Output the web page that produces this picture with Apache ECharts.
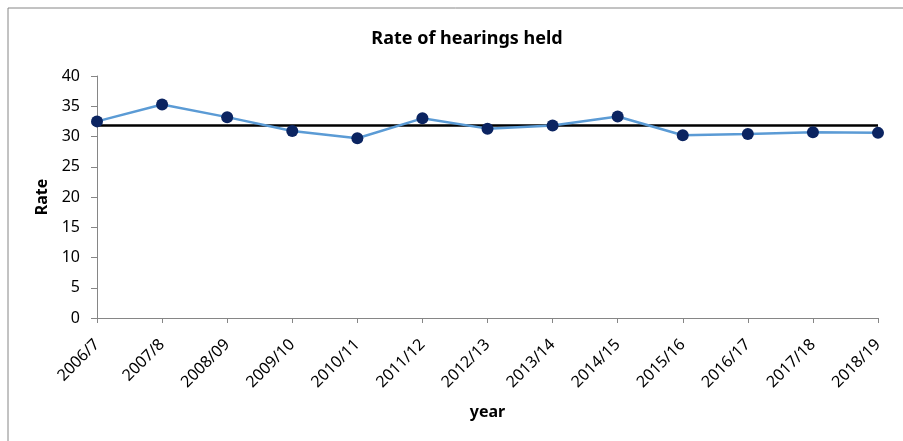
<!DOCTYPE html>
<html>
<head>
<meta charset="utf-8">
<script src="https://cdn.jsdelivr.net/npm/echarts@6/dist/echarts.min.js"></script>
<style>
  html, body { margin: 0; padding: 0; background: #fff; }
  #chart { width: 903px; height: 441px; }
</style>
</head>
<body>
<div id="chart"></div>
<script>
// data
var years = ['2006/7', '2007/8', '2008/09', '2009/10', '2010/11', '2011/12', '2012/13',
             '2013/14', '2014/15', '2015/16', '2016/17', '2017/18', '2018/19'];
var rate = [32.5, 35.3, 33.2, 30.9, 29.7, 33.0, 31.3, 31.8, 33.3, 30.2, 30.4, 30.7, 30.6];
var average = [31.8, 31.8, 31.8, 31.8, 31.8, 31.8, 31.8, 31.8, 31.8, 31.8, 31.8, 31.8, 31.8];

var font = 'Noto Sans';
var chart = echarts.init(document.getElementById('chart'));

var option = {
    animation: false,
    title: {
        text: 'Rate of hearings held',
        left: 462,
        top: 25,
        textAlign: 'center',
        textStyle: { fontFamily: font, fontSize: 18, fontWeight: 'bold', color: '#000' }
    },
    graphic: [
        // outer chart frame (only top and left edges show)
        { type: 'polyline', shape: { points: [[8, 441], [8, 8], [903, 8]] },
          style: { stroke: '#868686', lineWidth: 1, fill: null } }
    ],
    grid: { left: 97, right: 25, top: 76, bottom: 123 },
    xAxis: {
        type: 'category',
        data: years,
        boundaryGap: false,
        name: 'year',
        nameLocation: 'middle',
        nameGap: 86,
        nameTextStyle: { fontFamily: font, fontSize: 16, fontWeight: 'bold', color: '#000' },
        axisLine: { lineStyle: { color: '#868686', width: 1 } },
        axisTick: { alignWithLabel: true, length: 5, lineStyle: { color: '#868686' } },
        axisLabel: { rotate: 45, fontFamily: font, fontSize: 16, color: '#000', margin: 24, interval: 0 },
        splitLine: { show: false }
    },
    yAxis: {
        type: 'value',
        min: 0,
        max: 40,
        interval: 5,
        name: 'Rate',
        nameLocation: 'middle',
        nameRotate: 90,
        nameGap: 44,
        nameTextStyle: { fontFamily: font, fontSize: 16, fontWeight: 'bold', color: '#000' },
        axisLine: { show: true, lineStyle: { color: '#868686', width: 1 } },
        axisTick: { show: true, length: 6, lineStyle: { color: '#868686' } },
        axisLabel: { fontFamily: font, fontSize: 16, color: '#000', margin: 17 },
        splitLine: { show: false }
    },
    series: [
        {
            name: 'Average',
            type: 'line',
            data: average,
            symbol: 'none',
            lineStyle: { color: '#000', width: 2.5 },
            z: 2
        },
        {
            name: 'Rate',
            type: 'line',
            data: rate,
            symbol: 'circle',
            symbolSize: 12,
            lineStyle: { color: '#5b9bd5', width: 2.5 },
            itemStyle: { color: '#0b2461' },
            z: 3
        }
    ]
};

chart.setOption(option);
</script>
</body>
</html>
